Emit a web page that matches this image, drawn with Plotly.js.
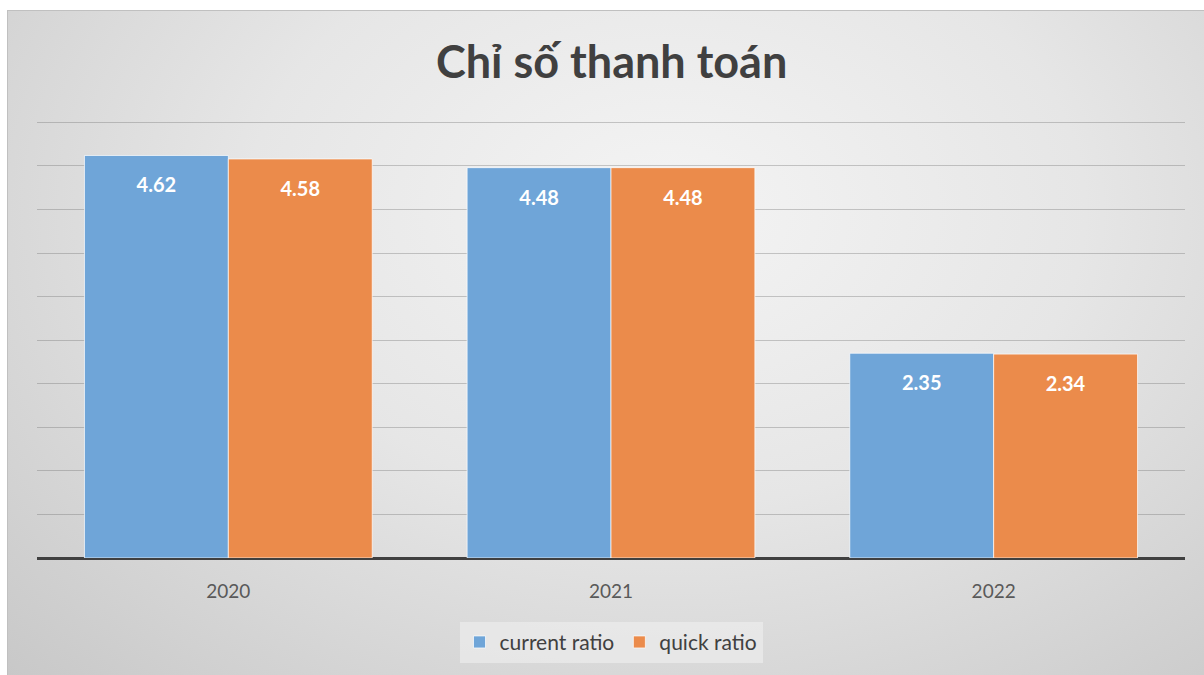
<!DOCTYPE html>
<html>
<head>
<meta charset="utf-8">
<script src="https://cdn.plot.ly/plotly-3.0.1.min.js"></script>
<style>
  body { margin: 0; background: #fff; }
  #bg {
    position: absolute; left: 7px; top: 10px; width: 1197px; height: 665px;
    background: radial-gradient(ellipse at 55% 30%, #f4f4f4 0%, #e6e6e6 45%, #c8c8c8 100%);
    border-top: 1px solid #c0c0c0; border-left: 1px solid #c0c0c0;
  }
  #chart { position: absolute; left: 0; top: 0; width: 1204px; height: 675px; }
</style>
</head>
<body>
<div id="bg"></div>
<div id="chart"></div>
<script>
var years = ['2020', '2021', '2022']
var currentRatio = [4.62, 4.48, 2.35]
var quickRatio = [4.58, 4.48, 2.34]

var labelFont = {family: 'Lato, Noto Sans, sans-serif', size: 20, color: '#ffffff', weight: 'bold'}
// small blank first line pushes the value a bit below the bar top
var labelTpl = '<span style="font-size:8px">&nbsp;</span><br>%{text}'

var data0 = [
    {
        x: years, y: currentRatio, type: 'bar', name: 'current ratio',
        marker: {color: '#6fa5d8', line: {color: 'rgba(255,255,255,0.7)', width: 1}},
        text: currentRatio.map(function (v) { return v.toFixed(2) }),
        textposition: 'inside', insidetextanchor: 'end', textangle: 0,
        texttemplate: labelTpl, textfont: labelFont, hoverinfo: 'none'
    },
    {
        x: years, y: quickRatio, type: 'bar', name: 'quick ratio',
        marker: {color: '#eb8b4b', line: {color: 'rgba(255,255,255,0.7)', width: 1}},
        text: quickRatio.map(function (v) { return v.toFixed(2) }),
        textposition: 'inside', insidetextanchor: 'end', textangle: 0,
        texttemplate: labelTpl, textfont: labelFont, hoverinfo: 'none'
    }
];

var layout1 = {
    width: 1204, height: 675,
    paper_bgcolor: 'rgba(0,0,0,0)',
    plot_bgcolor: 'rgba(0,0,0,0)',
    margin: {l: 37, r: 19, t: 117.6, b: 117, autoexpand: false},
    font: {family: 'Lato, Noto Sans, sans-serif', color: '#595959'},
    title: {
        text: 'Chỉ số thanh toán',
        font: {family: 'Lato, Noto Sans, sans-serif', size: 45, color: '#404040', weight: 'bold'},
        x: 0.508, xanchor: 'center', y: 0.908, yanchor: 'middle'
    },
    barmode: 'group', bargap: 0.248, bargroupgap: 0,
    xaxis: {
        showgrid: false, zeroline: false, showline: false, ticks: '',
        tickfont: {size: 19, color: '#595959'}, ticklabelstandoff: 20
    },
    yaxis: {
        range: [0, 5.05], dtick: 0.5, showticklabels: false,
        showgrid: true, gridcolor: 'rgba(110,110,110,0.35)', gridwidth: 1,
        zeroline: true, zerolinecolor: '#404040', zerolinewidth: 3, showline: false
    },
    legend: {
        orientation: 'h', x: 0.5, xanchor: 'center', y: -0.145, yanchor: 'top',
        bgcolor: 'rgba(236,236,236,0.7)', font: {size: 21, color: '#404040'},
        itemclick: false
    },
    showlegend: true
};

var TESTER = document.getElementById('chart');
Plotly.newPlot(TESTER, data0, layout1, {displayModeBar: false, staticPlot: true});
</script>
</body>
</html>
